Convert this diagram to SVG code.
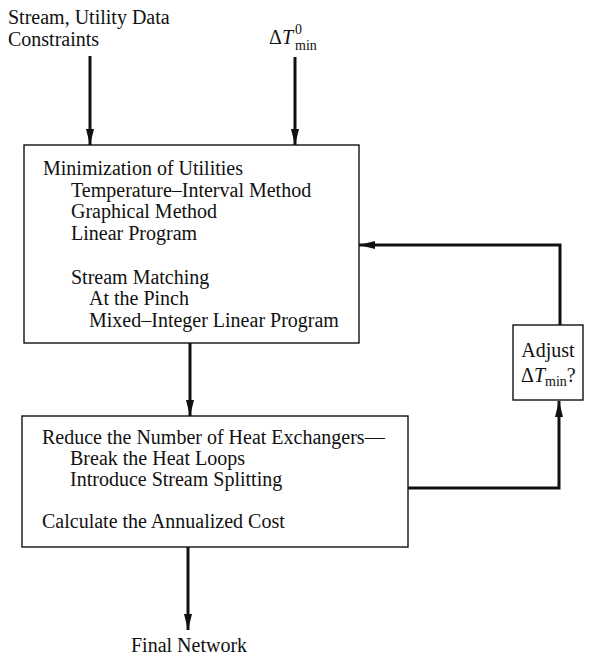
<svg xmlns="http://www.w3.org/2000/svg" width="595" height="656" viewBox="0 0 595 656">
  <style>
    text { font-family: "Liberation Serif", "Times New Roman", serif; font-size: 20px; fill: #111; }
    .box { fill: #fff; stroke: #111; stroke-width: 1.4; }
    .flow { fill: none; stroke: #111; stroke-width: 3; }
    .it { font-style: italic; }
    .sm { font-size: 14px; }
  </style>
  <defs>
    <marker id="arrow" viewBox="0 0 16 10" refX="16" refY="5" markerWidth="16" markerHeight="10" markerUnits="userSpaceOnUse" orient="auto">
      <path d="M0,1 L16,5 L0,9 Z" fill="#111"/>
    </marker>
  </defs>

  <!-- inputs -->
  <g id="input-data">
    <text x="8" y="24">Stream, Utility Data</text>
    <text x="8" y="46">Constraints</text>
  </g>
  <g id="input-dtmin">
    <text x="269" y="44">Δ<tspan class="it">T</tspan></text>
    <text class="sm" x="295" y="34">0</text>
    <text class="sm" x="295" y="50">min</text>
  </g>

  <!-- utility targeting and matching -->
  <g id="minimization">
    <rect class="box" x="24" y="145" width="335" height="198"/>
    <text x="43" y="175">Minimization of Utilities</text>
    <text x="71" y="197">Temperature–Interval Method</text>
    <text x="71" y="218">Graphical Method</text>
    <text x="71" y="240">Linear Program</text>
    <text x="71" y="284">Stream Matching</text>
    <text x="89" y="305">At the Pinch</text>
    <text x="89" y="327">Mixed–Integer Linear Program</text>
  </g>

  <!-- network evolution -->
  <g id="reduce">
    <rect class="box" x="22" y="416" width="386" height="131"/>
    <text x="42" y="444">Reduce the Number of Heat Exchangers—</text>
    <text x="70" y="465">Break the Heat Loops</text>
    <text x="70" y="486">Introduce Stream Splitting</text>
    <text x="42" y="528">Calculate the Annualized Cost</text>
  </g>

  <g id="adjust">
    <rect class="box" x="513" y="325" width="70" height="75"/>
    <text x="548" y="357" text-anchor="middle">Adjust</text>
    <text x="521" y="382">Δ<tspan class="it">T</tspan><tspan class="sm" dy="4">min</tspan><tspan dy="-4">?</tspan></text>
  </g>

  <g id="output">
    <text x="189" y="652" text-anchor="middle">Final Network</text>
  </g>

  <!-- connectors -->
  <g id="connectors">
    <line class="flow" x1="90" y1="56" x2="90" y2="145" marker-end="url(#arrow)"/>
    <line class="flow" x1="295" y1="57" x2="295" y2="145" marker-end="url(#arrow)"/>
    <line class="flow" x1="190" y1="343" x2="190" y2="416" marker-end="url(#arrow)"/>
    <line class="flow" x1="188" y1="547" x2="188" y2="630" marker-end="url(#arrow)"/>
    <polyline class="flow" points="408,488 559,488 559,401" marker-end="url(#arrow)"/>
    <polyline class="flow" points="560,325 560,245 359,245" marker-end="url(#arrow)"/>
  </g>
</svg>
